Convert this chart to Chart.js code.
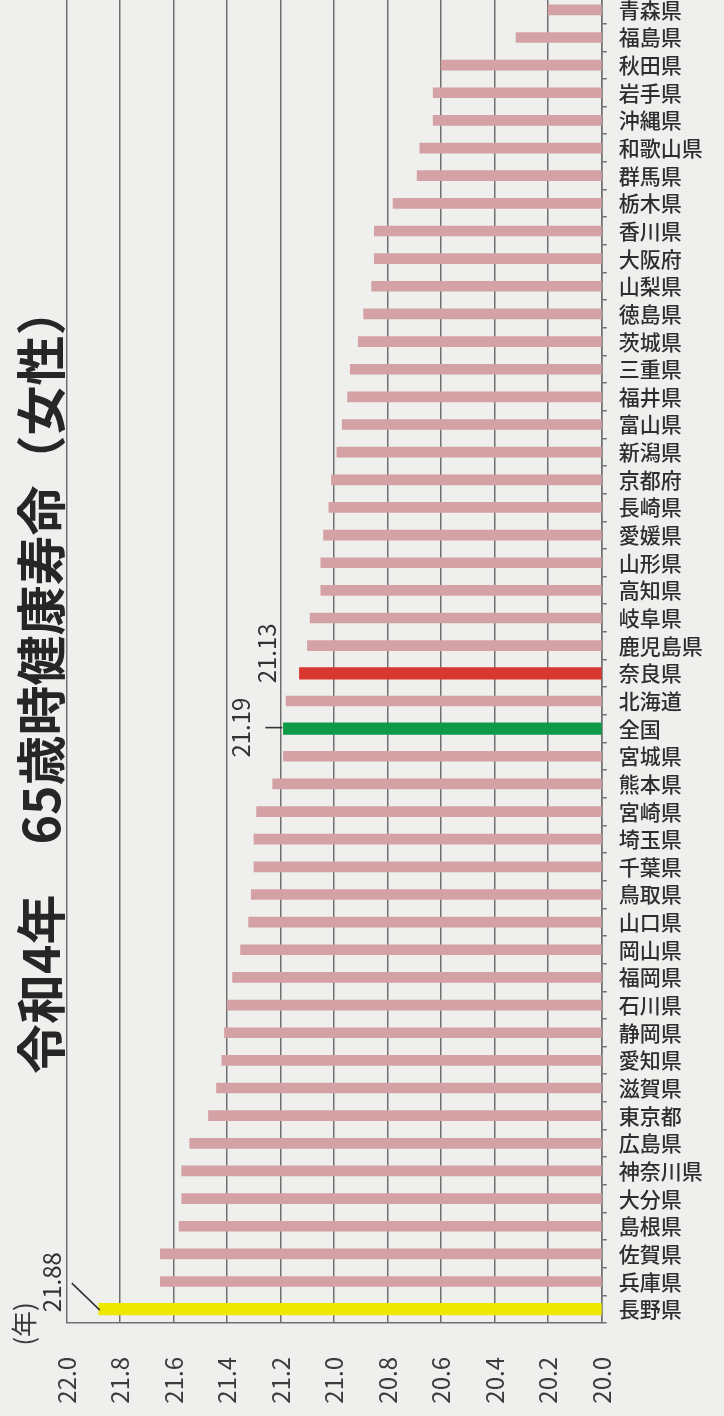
<!DOCTYPE html>
<html lang="ja">
<head>
<meta charset="utf-8">
<script src="https://cdn.jsdelivr.net/npm/chart.js@4.4.1/dist/chart.umd.min.js"></script>
<style>
html,body{margin:0;padding:0;background:#efefed;width:724px;height:1416px;overflow:hidden;}
#wrap{position:absolute;left:0;top:-4px;width:724px;height:1420px;}
</style>
</head>
<body>
<div id="wrap"><canvas id="c" width="724" height="1420"></canvas></div>
<script>
// ---- data (top to bottom as shown) ----
const categories = ['青森県','福島県','秋田県','岩手県','沖縄県','和歌山県','群馬県','栃木県','香川県','大阪府',
  '山梨県','徳島県','茨城県','三重県','福井県','富山県','新潟県','京都府','長崎県','愛媛県',
  '山形県','高知県','岐阜県','鹿児島県','奈良県','北海道','全国','宮城県','熊本県','宮崎県',
  '埼玉県','千葉県','鳥取県','山口県','岡山県','福岡県','石川県','静岡県','愛知県','滋賀県',
  '東京都','広島県','神奈川県','大分県','島根県','佐賀県','兵庫県','長野県'];
const values = [20.20,20.32,20.60,20.63,20.63,20.68,20.69,20.78,20.85,20.85,
  20.86,20.89,20.91,20.94,20.95,20.97,20.99,21.01,21.02,21.04,
  21.05,21.05,21.09,21.10,21.13,21.18,21.19,21.19,21.23,21.29,
  21.30,21.30,21.31,21.32,21.35,21.38,21.40,21.41,21.42,21.44,
  21.47,21.54,21.57,21.57,21.58,21.65,21.65,21.88];
const tickValues = [20.0,20.2,20.4,20.6,20.8,21.0,21.2,21.4,21.6,21.8,22.0];
const tickLabels = ['20.0','20.2','20.4','20.6','20.8','21.0','21.2','21.4','21.6','21.8','22.0'];
const highlightCategories = ['長野県','全国','奈良県'];
const highlightColors = ['#eee800','#0b9a47','#d9362f'];
const annotatedCategories = ['長野県','全国','奈良県'];
const titleText = '令和4年　65歳時健康寿命（女性）';
const unitText = '(年)';

// ---- build datasets ----
const normalData = values.map((v,i)=> highlightCategories.includes(categories[i]) ? null : v);
const hiData = values.map((v,i)=> highlightCategories.includes(categories[i]) ? v : null);
const hiColors = categories.map(c => { const k = highlightCategories.indexOf(c); return k >= 0 ? highlightColors[k] : 'rgba(0,0,0,0)'; });

const NUM_FONT = '"Noto Sans CJK JP", "Noto Sans", sans-serif';
const GRID = '#707070';

// annotation layout (pixel offsets relative to bar end)
const annoStyle = {
  '長野県': {line:[[1,1],[-27,-26]], text:[-47,-27]},
  '全国':   {line:[[-18,-1],[-1,-1]], text:[-43,-1]},
  '奈良県': {line:null, text:[-33,-20]}
};

const zeroPad = s => { s.paddingTop = 0; s.paddingBottom = 0; s.paddingLeft = 0; s.paddingRight = 0; };

const overlay = {
  id:'overlay',
  afterDraw(chart){
    const {ctx, scales:{x, y}} = chart;
    ctx.save();
    // title
    ctx.fillStyle = '#262626';
    ctx.font = 'bold 50px "Noto Sans CJK JP"';
    ctx.textAlign = 'left'; ctx.textBaseline = 'middle';
    ctx.save(); ctx.translate(41, 1078); ctx.rotate(-Math.PI/2); ctx.fillText(titleText, 0, 0); ctx.restore();
    // unit
    ctx.textAlign = 'center';
    ctx.fillStyle = '#3a3a3a';
    ctx.font = '26px "Noto Sans CJK JP"';
    ctx.save(); ctx.translate(24, 1328); ctx.rotate(-Math.PI/2); ctx.fillText(unitText, 0, 0); ctx.restore();
    // annotations
    ctx.font = '24px ' + NUM_FONT;
    annotatedCategories.forEach(cat => {
      const i = categories.indexOf(cat);
      const bx = x.getPixelForValue(values[i]);
      const by = y.getPixelForValue(i);
      const st = annoStyle[cat];
      if (st.line){
        ctx.strokeStyle = '#333'; ctx.lineWidth = 1.6;
        ctx.beginPath();
        ctx.moveTo(bx+st.line[0][0], by+st.line[0][1]);
        ctx.lineTo(bx+st.line[1][0], by+st.line[1][1]);
        ctx.stroke();
      }
      ctx.fillStyle = '#333';
      ctx.save(); ctx.translate(bx+st.text[0], by+st.text[1]); ctx.rotate(-Math.PI/2);
      ctx.fillText(values[i].toFixed(2), 0, 0); ctx.restore();
    });
    ctx.restore();
  }
};

new Chart(document.getElementById('c'), {
  type:'bar',
  data:{
    labels: categories,
    datasets:[
      {data: normalData, backgroundColor:'#d4a2a4', barThickness:10, grouped:false},
      {data: hiData, backgroundColor: hiColors, barThickness:11.5, grouped:false}
    ]
  },
  options:{
    indexAxis:'y',
    responsive:false,
    animation:false,
    layout:{padding:{left:66.7, top:0, right:0, bottom:0}},
    scales:{
      x:{
        type:'linear', min:20, max:22, reverse:true, position:'bottom',
        afterBuildTicks: s => { s.ticks = tickValues.map(v => ({value:v})); },
        ticks:{minRotation:90, maxRotation:90, padding:34, autoSkip:false,
          callback:(v,idx)=> tickLabels[idx],
          font:{family:NUM_FONT, size:24}, color:'#3c3c3c'},
        grid:{color:GRID, lineWidth:1.5, drawTicks:false},
        border:{display:true, color:GRID, width:1.5},
        afterFit: s => { s.height = 93; zeroPad(s); }
      },
      y:{
        position:'right',
        ticks:{autoSkip:false, padding:12, font:{family:'"Noto Sans CJK JP"', size:21, weight:'500'}, color:'#2e2e2e'},
        grid:{drawOnChartArea:false, drawTicks:true, tickLength:5, color:GRID, lineWidth:1.5, offset:true},
        border:{display:true, color:GRID, width:1.5},
        afterFit: s => { s.width = 122.3; zeroPad(s); }
      }
    },
    plugins:{legend:{display:false}, tooltip:{enabled:false}, title:{display:false}}
  },
  plugins:[overlay]
});
</script>
</body>
</html>
